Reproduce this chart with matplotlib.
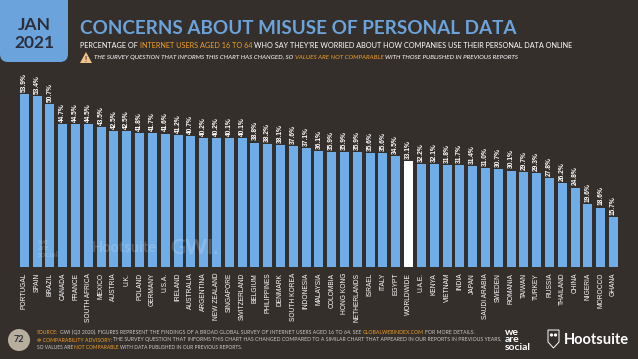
import matplotlib
matplotlib.use("Agg")
import matplotlib.pyplot as plt
from matplotlib.patches import FancyBboxPatch, Polygon, Circle

plt.rcParams['font.family'] = ['Lato', 'DejaVu Sans']
NARROW = ['Liberation Sans Narrow', 'Liberation Sans', 'DejaVu Sans']

countries = ['PORTUGAL', 'SPAIN', 'BRAZIL', 'CANADA', 'FRANCE', 'SOUTH AFRICA', 'MEXICO', 'AUSTRIA',
             'U.K.', 'POLAND', 'GERMANY', 'U.S.A.', 'IRELAND', 'AUSTRALIA', 'ARGENTINA', 'NEW ZEALAND',
             'SINGAPORE', 'SWITZERLAND', 'BELGIUM', 'PHILIPPINES', 'DENMARK', 'SOUTH KOREA', 'INDONESIA',
             'MALAYSIA', 'COLOMBIA', 'HONG KONG', 'NETHERLANDS', 'ISRAEL', 'ITALY', 'EGYPT', 'WORLDWIDE',
             'U.A.E.', 'KENYA', 'VIETNAM', 'INDIA', 'JAPAN', 'SAUDI ARABIA', 'SWEDEN', 'ROMANIA', 'TAIWAN',
             'TURKEY', 'RUSSIA', 'THAILAND', 'CHINA', 'NIGERIA', 'MOROCCO', 'GHANA']
values = [53.9, 53.4, 50.7, 44.7, 44.5, 44.5, 43.5, 42.5, 42.5, 41.8, 41.7, 41.6, 41.2, 40.7, 40.2, 40.2,
          40.1, 40.1, 38.8, 38.2, 38.1, 37.6, 37.1, 36.1, 35.9, 35.9, 35.9, 35.6, 35.6, 34.5, 33.1,
          32.2, 32.1, 31.8, 31.7, 31.4, 31.0, 30.7, 30.1, 29.7, 29.3, 27.8, 26.2, 24.8, 19.6, 18.6, 15.7]

BG = '#352f2c'
BLUE = '#6fade8'
TITLE_BLUE = '#6ba4dc'
ORANGE = '#f0a028'
W, H = 638, 359

fig = plt.figure(figsize=(W / 100, H / 100), dpi=100, facecolor=BG)

# overlay in pixel coords, y going down
bg = fig.add_axes([0, 0, 1, 1])
bg.set_xlim(0, W)
bg.set_ylim(H, 0)
bg.axis('off')

# bar axes
pitch = 12.81
ax = fig.add_axes([0, (H - 267.3) / H, 1, (267.3 - 60) / H])
ax.set_xlim(-24.3 / pitch, (W - 24.3) / pitch)
ax.set_ylim(0, (267.3 - 60) / 3.215)
ax.axis('off')
ax.patch.set_alpha(0)

colors = ['white' if c == 'WORLDWIDE' else BLUE for c in countries]
xs = range(len(countries))
ax.bar(xs, values, width=0.7, color=colors)
for x, v, c in zip(xs, values, countries):
    ax.annotate('%.1f%%' % v, (x, v), xytext=(0, 1.5), textcoords='offset points', rotation=90,
                ha='center', va='bottom', color='white', fontsize=4.8, family=NARROW, weight='bold')
    ax.annotate(c, (x, 0), xytext=(0, -4), textcoords='offset points', rotation=90,
                ha='center', va='top', color='white', fontsize=4.8, family=NARROW)

renderer = fig.canvas.get_renderer()


def seg_width(s, size, **kw):
    # the bar keeps leading and trailing spaces in the measure
    t = bg.text(0, 0, s + '|', fontsize=size, **kw)
    b = bg.text(0, 0, '|', fontsize=size, **kw)
    w = t.get_window_extent(renderer).width - b.get_window_extent(renderer).width
    t.remove()
    b.remove()
    return w


def text_line(segments, x, y, size, target, **kw):
    # lays out coloured pieces one after the other, scaled to reach the target width
    total = sum(seg_width(s, size, **kw) for s, _ in segments)
    size = size * target / total
    for s, col in segments:
        lead = len(s) - len(s.lstrip(' '))
        if lead:
            x += seg_width(' ' * lead, size, **kw)
        bg.text(x, y, s.strip(' '), fontsize=size, color=col, va='center', ha='left', **kw)
        x += seg_width(s.lstrip(' '), size, **kw)


# date box
bg.add_patch(FancyBboxPatch((0, -20), 68, 82, boxstyle='round,pad=0,rounding_size=8', fc=TITLE_BLUE, ec='none'))
bg.text(34, 25, 'JAN', ha='center', va='center', fontsize=12.5, weight='bold', color='#2b2e3a')
bg.text(34, 43, '2021', ha='center', va='center', fontsize=12.5, weight='bold', color='#2b2e3a')

text_line([('CONCERNS ABOUT MISUSE OF PERSONAL DATA', TITLE_BLUE)], 80, 28, 14, 440, weight='bold')
text_line([('PERCENTAGE OF ', 'white'), ('INTERNET USERS AGED 16 TO 64', ORANGE),
           (" WHO SAY THEY'RE WORRIED ABOUT HOW COMPANIES USE THEIR PERSONAL DATA ONLINE", 'white')],
          80, 45, 5.5, 496)

# warning sign
bg.add_patch(Polygon([[80, 63], [92, 63], [86, 52]], fc='#f2c48a', ec='none'))
bg.text(86, 59, '!', ha='center', va='center', fontsize=5, weight='bold', color='#352f2c')
text_line([('THE SURVEY QUESTION THAT INFORMS THIS CHART HAS CHANGED, SO ', 'white'),
           ('VALUES ARE NOT COMPARABLE', ORANGE), (' WITH THOSE PUBLISHED IN PREVIOUS REPORTS', 'white')],
          94, 57.5, 4.5, 424, style='italic')

# faint watermarks, on the figure so they sit over the bars
for s, x, y, fs in [('we\nare\nsocial', 38, 248, 6), ('Hootsuite', 92, 248, 10.5), ('GWI.', 170, 248, 15)]:
    fig.text(x / W, 1 - y / H, s, ha='left', va='center', fontsize=fs, weight='bold', color='white',
             alpha=0.18, linespacing=0.85, zorder=5)

# footer
bg.add_patch(Circle((19, 340), 11, fc='#b8ae9e', ec='none'))
bg.text(19, 340, '72', ha='center', va='center', fontsize=6.5, weight='bold', color='#2b2e3a')
FOOT = '#cfcac4'
text_line([('SOURCE:', ORANGE),
           (' GWI (Q3 2020). FIGURES REPRESENT THE FINDINGS OF A BROAD GLOBAL SURVEY OF INTERNET USERS AGED 16 TO 64. SEE ', FOOT),
           ('GLOBALWEBINDEX.COM', ORANGE), (' FOR MORE DETAILS.', FOOT)], 37, 332.5, 4, 425)
text_line([('\u2747 COMPARABILITY ADVISORY:', ORANGE),
           (' THE SURVEY QUESTION THAT INFORMS THIS CHART HAS CHANGED COMPARED TO A SIMILAR CHART THAT APPEARED IN OUR REPORTS IN PREVIOUS YEARS,', FOOT)],
          37, 340, 4, 451)
text_line([('SO VALUES ARE ', FOOT), ('NOT COMPARABLE', ORANGE), (' WITH DATA PUBLISHED IN OUR PREVIOUS REPORTS.', FOOT)],
          37, 347.5, 4, 203)

# logos
bg.text(505, 340, 'we\nare\nsocial', ha='left', va='center', fontsize=7.5, weight='bold', color='white', linespacing=0.8)
bg.add_patch(Polygon([[548, 330], [559, 330], [559, 342], [553.5, 348], [548, 342]], fc='none', ec='white', lw=0.7))
bg.add_patch(Circle((551.5, 335), 1.6, fc='white', ec='none'))
bg.add_patch(Circle((555.5, 335), 1.6, fc='white', ec='none'))
bg.text(564, 339.5, 'Hootsuite', ha='left', va='center', fontsize=10.5, weight='bold', color='white')

fig.savefig('out.png', dpi=100, facecolor=BG)
